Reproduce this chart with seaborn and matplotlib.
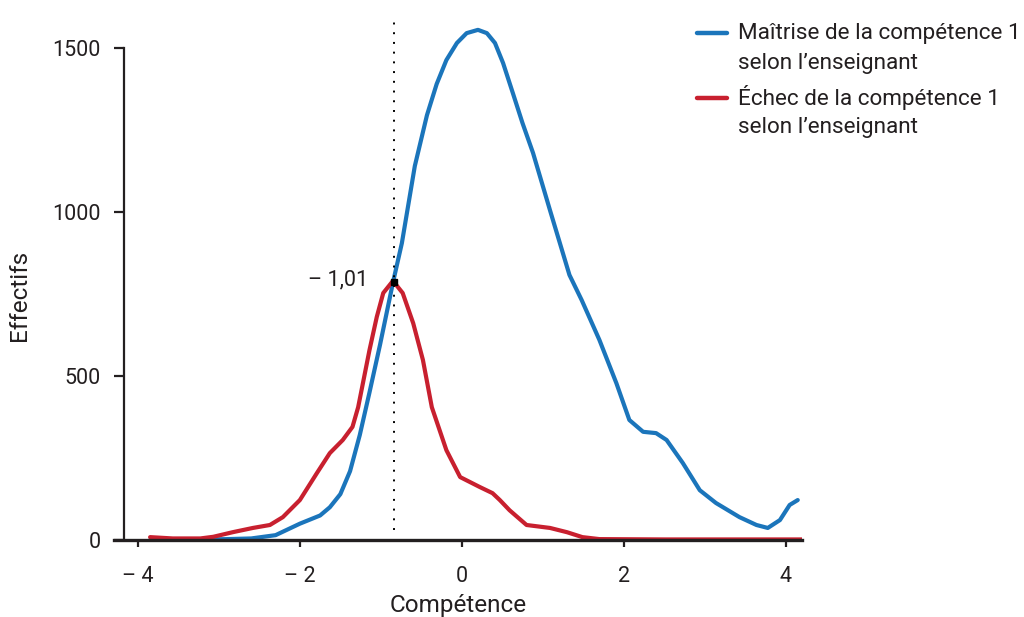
import seaborn as sns
import numpy as np
import pandas as pd
import matplotlib.pyplot as plt
from matplotlib.lines import Line2D

# Valeurs
maitrise_x = [-3.85, -3.3, -2.9, -2.6, -2.3, -2.0, -1.75, -1.63, -1.5, -1.38, -1.26, -1.14,
              -1.01, -0.85, -0.74, -0.58, -0.43, -0.31, -0.19, -0.06, 0.06, 0.20, 0.31,
              0.41, 0.51, 0.63, 0.75, 0.88, 1.09, 1.33, 1.48, 1.70, 1.91, 2.07, 2.24,
              2.40, 2.53, 2.73, 2.94, 3.14, 3.43, 3.64, 3.78, 3.93, 4.05, 4.15]
maitrise_y = [0, 1, 3, 5, 15, 50, 75, 100, 140, 210, 320, 450,
              595, 785, 905, 1140, 1295, 1390, 1463, 1515, 1545, 1555, 1545,
              1515, 1454, 1363, 1271, 1180, 1005, 808, 732, 610, 478, 366, 330,
              326, 305, 235, 152, 113, 70, 46, 37, 61, 107, 122]

echec_x = [-3.85, -3.57, -3.23, -3.07, -2.83, -2.58, -2.37, -2.21, -2.0, -1.79, -1.63,
           -1.47, -1.35, -1.28, -1.14, -1.05, -0.97, -0.85, -0.73, -0.60, -0.48, -0.37,
           -0.19, -0.02, 0.22, 0.38, 0.47, 0.59, 0.80, 1.09, 1.30, 1.49, 1.70, 2.5,
           3.5, 4.2]
echec_y = [9, 5, 5, 10, 24, 37, 46, 70, 122, 204, 265,
           305, 345, 405, 579, 680, 753, 790, 753, 661, 549, 405,
           274, 192, 162, 143, 122, 91, 46, 37, 24, 9, 3, 2,
           2, 2]

labels = ["Maîtrise de la compétence 1\nselon l\u2019enseignant",
          "Échec de la compétence 1\nselon l\u2019enseignant"]
colors = ["#1b75bb", "#c8202f"]

x_ticks = [-4, -2, 0, 2, 4]
x_ticklabels = ["\u2013 4", "\u2013 2", "0", "2", "4"]
y_ticks = [0, 500, 1000, 1500]

seuil_x = -0.84
seuil_y = 788
seuil_label = "\u2013 1,01"

sns.set_style("white")
plt.rcParams["font.family"] = ["Roboto", "DejaVu Sans"]
text_color = "#231f20"

df = pd.concat([
    pd.DataFrame({"x": maitrise_x, "y": maitrise_y, "groupe": labels[0]}),
    pd.DataFrame({"x": echec_x, "y": echec_y, "groupe": labels[1]}),
])

fig = plt.figure(figsize=(10.24, 6.17), dpi=100)
ax = fig.add_axes([0.111, 0.122, 0.672, 0.878])

sns.lineplot(data=df, x="x", y="y", hue="groupe", palette=colors, sort=False,
             linewidth=3, legend=False, ax=ax, zorder=2)

# ligne pointillée + point de croisement
ax.vlines(seuil_x, 30, 1600, colors="black", linestyles=(0, (1, 4)), linewidth=1.4, zorder=4)
ax.plot([seuil_x], [seuil_y], marker="s", markersize=4, color="black", zorder=5)
ax.text(seuil_x - 0.32, seuil_y + 5, seuil_label, ha="right", va="center",
        fontsize=15.5, color=text_color)

ax.set_xlim(-4.3, 4.2)
ax.set_ylim(-5, 1646)

ax.spines["top"].set_visible(False)
ax.spines["right"].set_visible(False)
ax.spines["left"].set_position(("data", -4.17))
ax.spines["left"].set_bounds(0, 1500)
ax.spines["left"].set_linewidth(1.6)
ax.spines["bottom"].set_position(("data", 0))
ax.spines["bottom"].set_linewidth(2.4)
for s in ["left", "bottom"]:
    ax.spines[s].set_color("#231f20")
    ax.spines[s].set_zorder(2.5)

ax.set_xticks(x_ticks)
ax.set_xticklabels(x_ticklabels)
ax.set_yticks(y_ticks)
ax.tick_params(axis="x", direction="out", length=5, width=1.6, pad=14,
               labelsize=15.5, colors=text_color)
ax.tick_params(axis="y", direction="out", length=7, width=1.6, pad=10,
               labelsize=15.5, colors=text_color)
ax.tick_params(left=True, bottom=True)

ax.set_xlabel("Compétence", fontsize=17.5, color=text_color)
ax.set_ylabel("Effectifs", fontsize=17.5, color=text_color)
ax.xaxis.set_label_coords(0.5, -0.097)
ax.yaxis.set_label_coords(-0.12, 0.455)

# légende manuelle, trait aligné sur la première ligne
legend_rows = [(1 - 33 / 617, 1 - 63 / 617), (1 - 98 / 617, 1 - 127 / 617)]
for lab, col, (y1, y2) in zip(labels, colors, legend_rows):
    fig.add_artist(Line2D([697 / 1024, 727 / 1024], [y1, y1], color=col,
                          linewidth=3.2, solid_capstyle="round"))
    first, second = lab.split("\n")
    fig.text(738 / 1024, y1, first, ha="left", va="center", fontsize=16.2, color=text_color)
    fig.text(738 / 1024, y2, second, ha="left", va="center", fontsize=16.2, color=text_color)

fig.savefig("out.png", dpi=100)
